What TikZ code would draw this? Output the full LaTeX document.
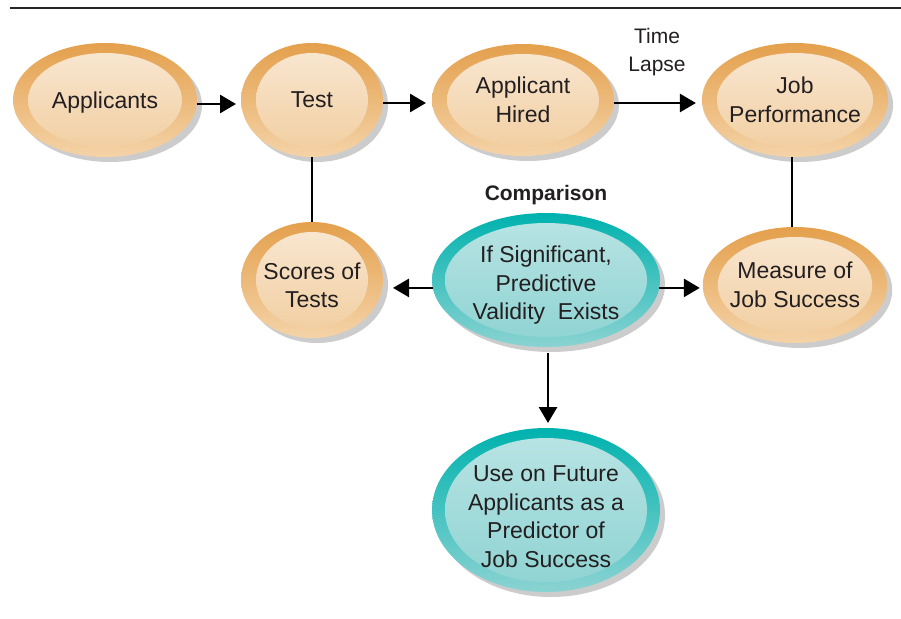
\documentclass[tikz,border=0pt]{standalone}
\usepackage{fontspec}
\setmainfont{Liberation Sans}
\usetikzlibrary{shapes.geometric,shadows,arrows.meta,calc}
\definecolor{orD}{HTML}{E4A04C}
\definecolor{orL}{HTML}{F4D3A8}
\definecolor{orIT}{HTML}{F9E8D4}
\definecolor{orIB}{HTML}{F1CD9E}
\definecolor{tlD}{HTML}{00B2AE}
\definecolor{tlL}{HTML}{8AD3D2}
\definecolor{tlIT}{HTML}{BAE4E4}
\definecolor{tlIB}{HTML}{8DD3D2}
\definecolor{txt}{HTML}{231F20}
\newcommand\dnstrut[1]{\rule{0pt}{#1}}
\tikzset{
  bubble/.style={ellipse, inner sep=0pt, outer sep=0pt, align=center,
    font=\fontsize{23}{28.5}\selectfont, text=txt,
    drop shadow={shadow xshift=5pt, shadow yshift=-5pt, fill=black!20, opacity=1}},
  orangeb/.style={bubble, top color=orD, bottom color=orL,
    path picture={\shade[top color=orIT, bottom color=orIB]
      let \p1=(path picture bounding box.north east),
          \p2=(path picture bounding box.center) in
      (\p2) ellipse [x radius=\x1-\x2-15pt, y radius=\y1-\y2-10pt];}},
  tealb/.style={bubble, top color=tlD, bottom color=tlL,
    path picture={\shade[top color=tlIT, bottom color=tlIB]
      let \p1=(path picture bounding box.north east),
          \p2=(path picture bounding box.center) in
      (\p2) ellipse [x radius=\x1-\x2-13pt, y radius=\y1-\y2-10pt];}},
  arr/.style={line width=2.8pt, -{Triangle[length=16pt,width=18pt]}},
  link/.style={line width=2.8pt},
  lbl/.style={align=center, text=txt, font=\fontsize{21}{28}\selectfont, inner sep=0pt}
}
\begin{document}
\begin{tikzpicture}[x=1pt,y=-1pt]
\useasboundingbox (0,0) rectangle (901,618);
\coordinate (la) at (10,8);
\coordinate (lb) at (901,8);
\draw[line width=1.5pt, black!85] (la) -- (lb);

\node[orangeb, minimum width=184pt, minimum height=114pt] (A) at (105,100) {\dnstrut{21pt}Applicants};
\node[orangeb, minimum width=142pt, minimum height=114pt] (T) at (312,100) {Test};
\node[orangeb, minimum width=182pt, minimum height=112pt] (H) at (523,100) {Applicant\\Hired};
\node[orangeb, minimum width=184pt, minimum height=114pt] (J) at (795,100) {Job\\Performance};
\node[orangeb, minimum width=142pt, minimum height=116pt] (S) at (312,280) {\dnstrut{27pt}Scores of\\Tests};
\node[tealb, minimum width=228pt, minimum height=134pt] (C) at (546,280) {\dnstrut{27pt}If Significant,\\Predictive\\Validity~~Exists};
\node[orangeb, minimum width=184pt, minimum height=116pt] (M) at (795,285) {Measure of\\Job Success};
\node[tealb, minimum width=228pt, minimum height=164pt] (U) at (546,510) {\dnstrut{29pt}Use on Future\\Applicants as a\\Predictor of\\Job Success};

\node[lbl] (TL) at (657,52) {Time\\Lapse};
\node[lbl, font=\fontsize{21}{26}\bfseries] (CMP) at (546,195) {Comparison};

\draw[arr, shorten >=5pt] ([yshift=-4pt]A.east) -- ([yshift=-4pt]A.east -| T.west);
\draw[arr, shorten >=6pt] ([yshift=-3pt]T.east) -- ([yshift=-3pt]T.east -| H.west);
\draw[arr, shorten >=6pt] ([yshift=-3pt]H.east) -- ([yshift=-3pt]H.east -| J.west);
\draw[link] (T) -- (S);
\draw[link] ([xshift=-3pt]M.north |- J.south) -- ([xshift=-3pt]M.north);
\draw[arr, shorten >=10pt] (C.184) -- (C.184 -| S.east);
\draw[arr, shorten >=3pt] (C.356) -- (C.356 -| M.west);
\draw[arr, shorten <=6pt, shorten >=5pt] ([xshift=2pt]C.south) -- ([xshift=2pt]U.north);
\end{tikzpicture}
\end{document}
